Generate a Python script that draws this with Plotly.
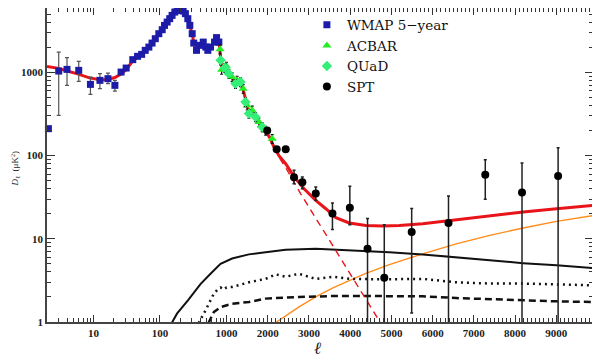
import math
import plotly.graph_objects as go

# ---------------- data ----------------
wmap_l = [2.1, 3, 4, 6, 9, 12.5, 16.5, 21, 26, 31, 39, 46, 53, 60, 68, 76, 85, 96, 108, 117,
          128, 140, 152, 167, 181, 203, 223, 241, 262, 281, 305, 322, 354, 397, 447, 489,
          524, 575, 661, 709, 768]
wmap_D = [211, 1040, 1089, 1060, 719, 804, 842, 700, 1011, 1130, 1426, 1563, 1650, 1845, 2019,
          2255, 2547, 2925, 3266, 3680, 4034, 4433, 4856, 5321, 5575, 5689, 5470, 5093, 4433,
          3680, 2925, 2255, 1845, 2118, 2318, 2019, 1845, 2019, 2318, 2624, 2318]
wmap_hi = [211, 1758, 1506, 1360, 881, 968, 984, 804] + [None] * 33
wmap_lo = [211, 305, 700, 782, 545, 638, 733, 598] + [None] * 33

acbar_l = [800, 844, 1000, 1136, 1258, 1404, 1501, 1623, 1786, 1949, 2109]
acbar_D = [1900, 1081, 1184, 881, 804, 639, 402, 351, 253, 201, 160]

quad_l = [814, 946, 1056, 1219, 1341, 1462, 1543, 1706, 1866]
quad_D = [1400, 1142, 968, 733, 767, 441, 320, 291, 221]

spt_l = [1988, 2217, 2436, 2638, 2840, 3165, 3570, 3992, 4421, 4827, 5492, 6385, 7277, 8168, 9044]
spt_D = [201, 119, 119, 55, 48, 35, 20.1, 23.7, 7.6, 3.4, 12.1, 15.5, 59, 36, 57]
spt_hi = [212, 126, 126, 66.6, 55.3, 42, 26.9, 42.8, 17.5, 14.8, 23.1, 32.7, 89.5, 81.5, 124.8]
spt_lo = [190, 112, 112, 46, 40, 29, 12.9, 14.8, 0.3, 0.3, 1.28, 0.3, 29.9, 0.3, 0.3]

model_l = [2, 3, 4, 5.6, 8.7, 12.6, 16, 21, 26, 31, 39, 46, 53, 60, 68, 76, 85, 96, 108, 117,
           128, 140, 152, 167, 181, 203, 223, 241, 262, 281, 305, 322, 354, 397, 447, 489, 524,
           575, 661, 709, 768, 814, 844, 900, 946, 1000, 1056, 1136, 1219, 1258, 1341, 1404,
           1462, 1501, 1543, 1623, 1706, 1786, 1866, 1949, 2050, 2151, 2272, 2435, 2638, 2881,
           3165, 3409, 3652, 3977, 4382, 4788, 5192, 5759, 6571, 7383, 8194, 9006, 9890]
model_D = [1184, 1120, 1040, 968, 860, 818, 820, 870, 960, 1080, 1380, 1560, 1700, 1850, 2020,
           2255, 2550, 2920, 3270, 3650, 4030, 4430, 4850, 5300, 5560, 5700, 5500, 5100, 4450,
           3700, 2900, 2300, 1850, 2050, 2300, 2050, 1880, 2000, 2350, 2550, 2350, 1600, 1200,
           1120, 1140, 1150, 1000, 880, 760, 780, 740, 620, 460, 400, 340, 340, 290, 250, 220,
           195, 165, 127, 100, 80, 56, 40, 29, 23, 18, 15.5, 14.5, 14.3, 14.5, 15.2, 17, 18.8,
           21, 23, 25.3]

cmb_l = [2151, 2272, 2435, 2638, 2800, 3100, 3400, 3700, 4000, 4300, 4625, 4750]
cmb_D = [125, 96, 72, 47, 34.8, 20, 11.5, 6.6, 3.8, 2.2, 1.2, 0.95]

sz_l = [150, 180, 263, 363, 406, 575, 814, 1136, 1543, 1949, 2436, 3165, 3732, 4382, 4949,
        5759, 6571, 7383, 8194, 9006, 9890]
sz_D = [0.97, 1.26, 1.82, 2.6, 2.85, 3.8, 5.0, 5.8, 6.5, 6.9, 7.4, 7.6, 7.4, 7.1, 6.9, 6.5,
        6.0, 5.5, 5.1, 4.8, 4.46]

dot_l = [380, 484, 646, 750, 814, 913, 1000, 1136, 1543, 1949, 2192, 2436, 2759, 3165, 3570,
         3977, 4788, 5759, 6571, 7383, 8194, 9006, 9890]
dot_D = [0.97, 1.38, 2.2, 2.5, 2.6, 2.45, 2.6, 2.64, 3.0, 3.3, 3.74, 3.5, 3.8, 3.3, 3.5, 3.3,
         3.26, 3.3, 3.0, 2.9, 2.9, 2.84, 2.76]

dash_l = [535, 646, 814, 980, 1136, 1543, 1949, 2759, 3570, 4382, 4949, 5759, 6571, 7383,
          8194, 9006, 9890]
dash_D = [0.97, 1.32, 1.51, 1.59, 1.66, 1.74, 1.91, 2.0, 2.05, 2.05, 2.05, 2.04, 1.94, 1.87,
          1.82, 1.77, 1.74]

ps_l = [2150, 2500, 2759, 3165, 3570, 3977, 4382, 4949, 5759, 6571, 7383, 8194, 9006, 9890]
ps_D = [0.95, 1.25, 1.52, 2.0, 2.55, 3.15, 3.85, 4.9, 6.6, 8.7, 11.0, 13.5, 16.2, 19.0]

x_major = [10, 100, 1000, 2000, 3000, 4000, 5000, 6000, 7000, 8000, 9000]
x_major_text = ["10", "100", "1000", "2000", "3000", "4000", "5000", "6000", "7000", "8000", "9000"]
y_major = [1, 10, 100, 1000]
y_major_text = ["1", "10", "100", "1000"]

# ---------------- hybrid log/linear ell axis ----------------
K = 41.1 / 66.3 / 1000.0


def lx(vals):
    return [math.log10(v) if v <= 1000 else 3 + (v - 1000) * K for v in vals]


x_minor = [m * d for d in (1, 10, 100) for m in range(2, 10)] + \
          [v for v in range(1100, 9900, 100) if v % 1000 != 0]
y_minor = [m * d for d in (1, 10, 100, 1000) for m in range(2, 10)]

fig = go.Figure()

# model curves
fig.add_trace(go.Scatter(x=lx(ps_l), y=ps_D, mode='lines',
                         line=dict(color='#ff8c1a', width=1.4), showlegend=False))
fig.add_trace(go.Scatter(x=lx(sz_l), y=sz_D, mode='lines',
                         line=dict(color='#111111', width=2), showlegend=False))
fig.add_trace(go.Scatter(x=lx(dot_l), y=dot_D, mode='lines',
                         line=dict(color='#111111', width=2.5, dash='2px,4px'), showlegend=False))
fig.add_trace(go.Scatter(x=lx(dash_l), y=dash_D, mode='lines',
                         line=dict(color='#111111', width=2.5, dash='7px,4px'), showlegend=False))
fig.add_trace(go.Scatter(x=lx(cmb_l), y=cmb_D, mode='lines',
                         line=dict(color='#e8141a', width=1.4, dash='7px,5px'), showlegend=False))
fig.add_trace(go.Scatter(x=lx(model_l), y=model_D, mode='lines',
                         line=dict(color='#e8141a', width=3), showlegend=False))

# data
wp = [(h - d) if h is not None else 0 for h, d in zip(wmap_hi, wmap_D)]
wm = [(d - lo) if lo is not None else 0 for lo, d in zip(wmap_lo, wmap_D)]
fig.add_trace(go.Scatter(x=lx(wmap_l), y=wmap_D, mode='markers', name='WMAP 5\u2212year',
                         marker=dict(symbol='square', size=7, color='#1c1ca8'),
                         error_y=dict(type='data', array=wp, arrayminus=wm, color='#555555',
                                      thickness=1.2, width=2),
                         cliponaxis=False))
fig.add_trace(go.Scatter(x=lx(acbar_l), y=acbar_D, mode='markers', name='ACBAR',
                         marker=dict(symbol='triangle-up', size=8, color='#22ee22'),
                         error_y=dict(type='percent', value=12, color='#111111',
                                      thickness=1.2, width=1.5)))
fig.add_trace(go.Scatter(x=lx(quad_l), y=quad_D, mode='markers', name='QUaD',
                         marker=dict(symbol='diamond', size=8, color='#33ee77'),
                         error_y=dict(type='percent', value=12, color='#111111',
                                      thickness=1.2, width=1.5)))
sp = [h - d for h, d in zip(spt_hi, spt_D)]
sm = [d - lo for lo, d in zip(spt_lo, spt_D)]
fig.add_trace(go.Scatter(x=lx(spt_l), y=spt_D, mode='markers', name='SPT',
                         marker=dict(symbol='circle', size=8, color='#000000'),
                         error_y=dict(type='data', array=sp, arrayminus=sm, color='#222222',
                                      thickness=1.5, width=1.5)))

tickfont = dict(family='Liberation Serif', size=11, color='#222222', weight='bold')
fig.update_xaxes(range=[math.log10(2), 3 + 8890 * K], tickmode='array',
                 tickvals=lx(x_major), ticktext=x_major_text, ticks='inside', ticklen=7,
                 tickwidth=1, tickcolor='#333333', showline=True, linecolor='#444444',
                 linewidth=1.5, mirror='allticks', showgrid=False, zeroline=False,
                 tickfont=tickfont, automargin=False,
                 minor=dict(tickmode='array', tickvals=lx(x_minor), ticks='inside',
                            ticklen=4, tickcolor='#333333', showgrid=False))
fig.update_yaxes(type='log', range=[0, 3.775], tickmode='array', tickvals=y_major,
                 ticktext=y_major_text, ticks='inside', ticklen=8, tickwidth=1,
                 tickcolor='#333333', showline=True, linecolor='#444444', linewidth=1.5,
                 mirror='allticks', showgrid=False, zeroline=False, tickfont=tickfont,
                 automargin=False,
                 minor=dict(tickmode='array', tickvals=y_minor, ticks='inside', ticklen=4,
                            tickcolor='#333333', showgrid=False))

fig.add_annotation(text='<i>\u2113</i>', x=0.496, y=0, xref='paper', yref='paper',
                   xanchor='center', yanchor='top', yshift=-15, showarrow=False,
                   font=dict(family='Liberation Serif', size=17, color='#222222'))
fig.add_annotation(text='<i>D</i><sub>\u2113</sub>  (\u03bcK<sup>2</sup>)', x=-0.0586, y=0.489,
                   xref='paper', yref='paper', xanchor='center', yanchor='middle',
                   textangle=-90, showarrow=False,
                   font=dict(family='Liberation Serif', size=9, color='#222222'))

# the page body has an 8px default margin, so the figure is sized/placed to compensate
fig.update_layout(width=592, height=352, margin=dict(l=39, r=7, t=0, b=38),
                  plot_bgcolor='white', paper_bgcolor='white',
                  legend=dict(x=0.476, y=0.995, xanchor='left', yanchor='top',
                              bgcolor='rgba(0,0,0,0)', borderwidth=0, itemwidth=30,
                              tracegroupgap=0,
                              font=dict(family='DejaVu Serif', size=13.5, color='#111111')))

fig.write_html('out.html')
